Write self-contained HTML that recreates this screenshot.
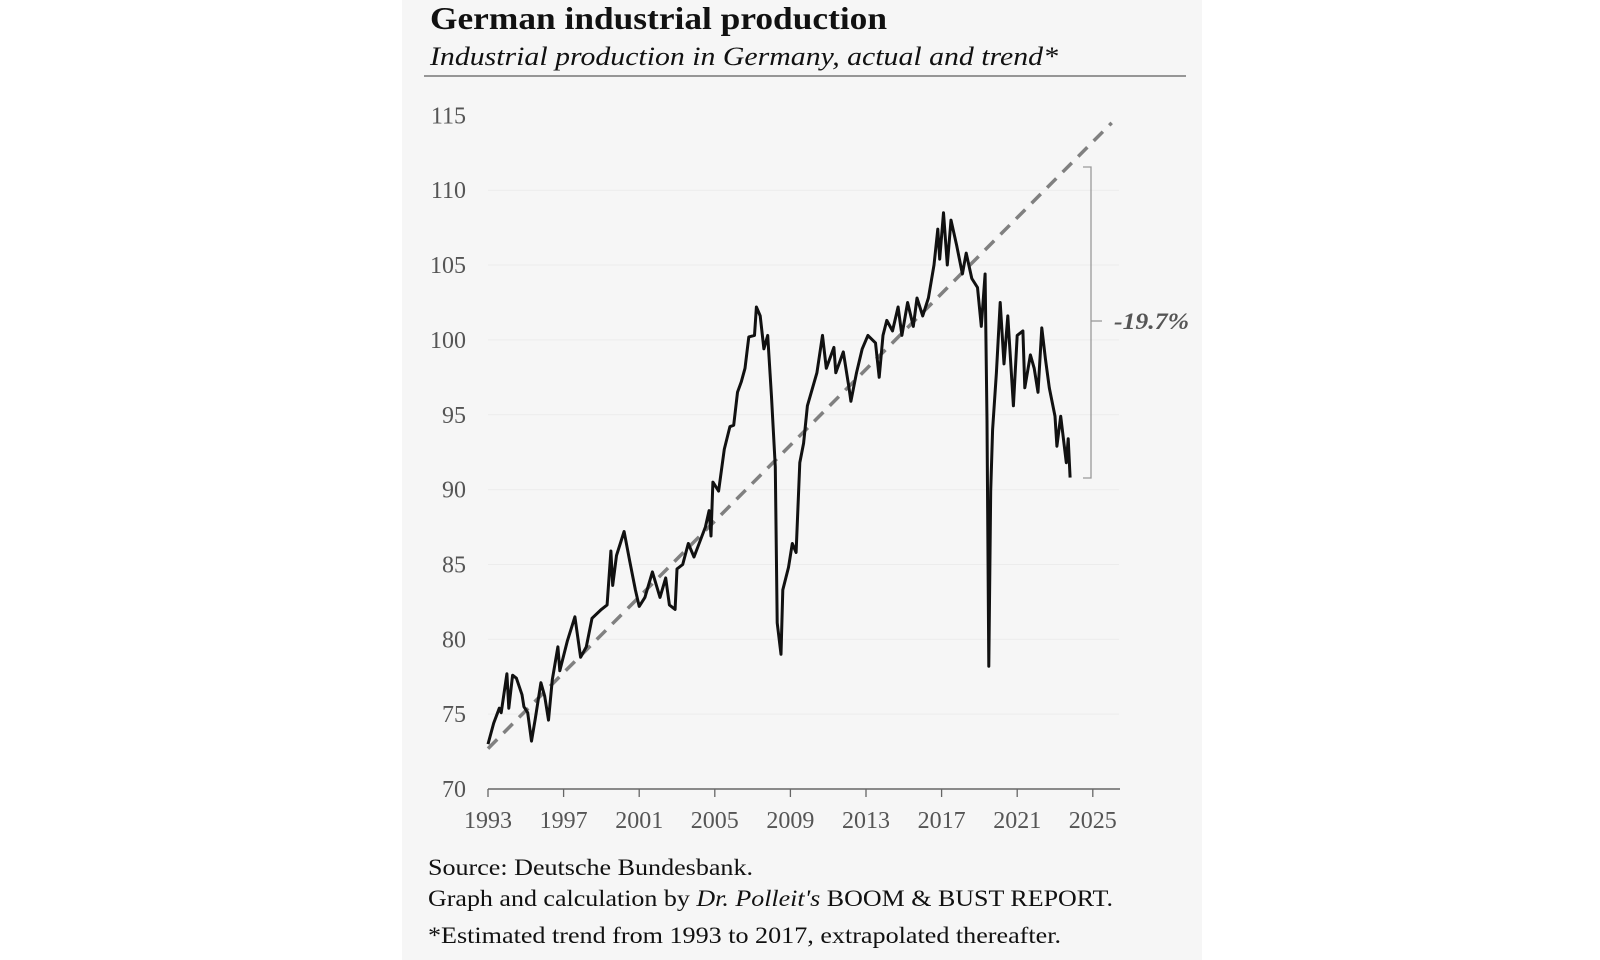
<!DOCTYPE html>
<html><head><meta charset="utf-8"><style>
html,body{margin:0;padding:0;background:#fff;width:1600px;height:960px;overflow:hidden}
svg{display:block}
text{font-family:"Liberation Serif",serif}
</style></head><body>
<svg id="chart" width="1600" height="960" viewBox="0 0 1600 960">
<rect x="402" y="0" width="800" height="960" fill="#f6f6f6"/>
<text x="430" y="29" font-size="32" font-weight="bold" fill="#111" textLength="457" lengthAdjust="spacingAndGlyphs">German industrial production</text>
<text x="430" y="65" font-size="26" font-style="italic" fill="#111" textLength="628" lengthAdjust="spacingAndGlyphs">Industrial production in Germany, actual and trend*</text>
<line x1="424" y1="76" x2="1186" y2="76" stroke="#777" stroke-width="1.5"/>
<g id="grid"></g><g id="yaxis"></g><g id="xaxis"></g><g id="series"></g>
<g>
<path d="M1083 167 H1091 V478 H1083" fill="none" stroke="#999" stroke-width="1.3"/>
<line x1="1091" y1="321" x2="1102" y2="321" stroke="#999" stroke-width="1.3"/>
<text x="1114" y="329" font-size="23" font-style="italic" font-weight="bold" fill="#555" textLength="75" lengthAdjust="spacingAndGlyphs">-19.7%</text>
</g>
<text x="428" y="875" font-size="23" fill="#111" textLength="325" lengthAdjust="spacingAndGlyphs">Source: Deutsche Bundesbank.</text>
<text x="428" y="906" font-size="23" fill="#111" textLength="685" lengthAdjust="spacingAndGlyphs">Graph and calculation by <tspan font-style="italic">Dr. Polleit's</tspan>  BOOM &amp; BUST REPORT.</text>
<text x="428" y="943" font-size="23" fill="#111" textLength="633" lengthAdjust="spacingAndGlyphs">*Estimated trend from 1993 to 2017, extrapolated thereafter.</text>
</svg>
<script>
const yTicks=[70,75,80,85,90,95,100,105,110,115];
const xTicks=[1993,1997,2001,2005,2009,2013,2017,2021,2025];
const years=[1993,1993.3,1993.6,1993.7,1994,1994.1,1994.3,1994.5,1994.8,1994.9,1995.1,1995.3,1995.5,1995.8,1996,1996.2,1996.4,1996.7,1996.8,1997.2,1997.6,1997.9,1998.2,1998.5,1999,1999.3,1999.5,1999.6,1999.8,2000.2,2000.5,2000.8,2001,2001.3,2001.7,2002.1,2002.4,2002.6,2002.9,2003,2003.3,2003.6,2003.9,2004.5,2004.7,2004.8,2004.9,2005.2,2005.5,2005.8,2006,2006.2,2006.4,2006.6,2006.8,2007.1,2007.2,2007.4,2007.6,2007.8,2008,2008.2,2008.3,2008.5,2008.6,2008.9,2009.1,2009.3,2009.5,2009.7,2009.9,2010.4,2010.7,2010.9,2011.3,2011.4,2011.8,2012.1,2012.2,2012.5,2012.8,2013.1,2013.5,2013.7,2013.9,2014.1,2014.4,2014.7,2014.9,2015.2,2015.5,2015.7,2016,2016.3,2016.6,2016.8,2016.9,2017.1,2017.3,2017.5,2017.8,2018.1,2018.3,2018.6,2018.9,2019.1,2019.3,2019.4,2019.5,2019.6,2019.7,2019.9,2020.1,2020.3,2020.5,2020.8,2021,2021.3,2021.4,2021.7,2021.9,2022.1,2022.3,2022.5,2022.7,2023,2023.1,2023.3,2023.6,2023.7,2023.8];
const production=[73.0,74.4,75.4,75.1,77.7,75.4,77.6,77.4,76.3,75.5,75.1,73.2,74.7,77.1,76.2,74.6,77.3,79.5,77.9,79.9,81.5,78.8,79.5,81.4,82.0,82.3,85.9,83.6,85.6,87.2,85.2,83.3,82.2,82.8,84.5,82.8,84.1,82.3,82.0,84.7,85.0,86.4,85.5,87.5,88.6,86.9,90.5,89.9,92.7,94.2,94.3,96.5,97.2,98.1,100.2,100.3,102.2,101.6,99.4,100.3,96.2,91.5,81.1,79.0,83.3,84.8,86.4,85.8,91.8,93.1,95.6,97.8,100.3,98.1,99.5,97.8,99.2,96.8,95.9,97.8,99.4,100.3,99.8,97.5,100.3,101.3,100.6,102.2,100.3,102.5,100.9,102.8,101.6,102.8,105.0,107.4,105.4,108.5,105.0,108.0,106.3,104.4,105.8,104.1,103.5,100.9,104.4,94.6,78.2,89.9,94.0,97.8,102.5,98.4,101.6,95.6,100.3,100.6,96.8,99.0,98.1,96.5,100.8,98.7,96.8,94.9,92.9,94.9,91.8,93.4,90.8];
const trendYears=[1993,2026.0];
const trendValues=[72.7,114.5];
const X=t=>488+(t-1993)*18.9;
const Y=v=>789-(v-70)*14.97;
const NS="http://www.w3.org/2000/svg";
function mk(tag,attrs,parent){const e=document.createElementNS(NS,tag);for(const k in attrs)e.setAttribute(k,attrs[k]);document.getElementById(parent).appendChild(e);return e;}
yTicks.forEach(v=>{
  if(v>70&&v<115){const g=mk('line',{x1:488,x2:1119,y1:Y(v),y2:Y(v),stroke:'#ececec','stroke-width':1},'grid');
  
  }
  const t=mk('text',{x:466,y:Y(v)+8,'text-anchor':'end','font-size':24,fill:'#555'},'yaxis');
  t.textContent=v;
  
  
});
const ax=mk('line',{x1:488,x2:1120,y1:789,y2:789,stroke:'#666','stroke-width':1.5},'xaxis');


xTicks.forEach(yr=>{
  const tk=mk('line',{x1:X(yr),x2:X(yr),y1:789,y2:797,stroke:'#666','stroke-width':1.3},'xaxis');
  
  
  const t=mk('text',{x:X(yr),y:828,'text-anchor':'middle','font-size':24,fill:'#555'},'xaxis');
  t.textContent=yr;
  
  
});
const tr=mk('line',{x1:X(trendYears[0]),y1:Y(trendValues[0]),x2:X(trendYears[1]),y2:Y(trendValues[1]),stroke:'#808080','stroke-width':3.5,'stroke-dasharray':'13 9'},'series');


const pts=years.map((t,i)=>X(t).toFixed(1)+','+Y(production[i]).toFixed(1)).join(' ');
const pl=mk('polyline',{points:pts,fill:'none',stroke:'#111','stroke-width':3,'stroke-linejoin':'round'},'series');


</script>
</body></html>
